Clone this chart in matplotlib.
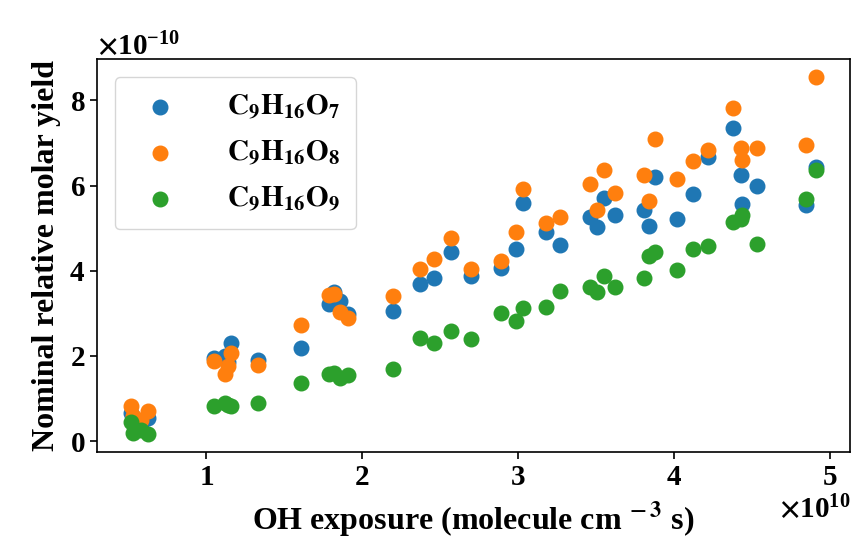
import numpy as np
import matplotlib
matplotlib.use("Agg")
import matplotlib.pyplot as plt

# OH exposure (x 1e10) and nominal yields (x 1e-10)
oh_exposure = [0.52, 0.53, 0.58, 0.63, 1.05, 1.12, 1.14, 1.16, 1.33,
               1.61, 1.79, 1.82, 1.86, 1.91, 2.20, 2.37, 2.46, 2.57,
               2.70, 2.89, 2.99, 3.03, 3.18, 3.27, 3.46, 3.51, 3.55,
               3.62, 3.81, 3.84, 3.88, 4.02, 4.12, 4.22, 4.38, 4.43,
               4.44, 4.53, 4.85, 4.91]
c9h16o7 = [0.65, 0.50, 0.40, 0.55, 1.95, 2.00, 1.85, 2.31, 1.90,
           2.18, 3.22, 3.50, 3.28, 2.98, 3.06, 3.69, 3.83, 4.43,
           3.88, 4.06, 4.51, 5.58, 4.90, 4.61, 5.27, 5.02, 5.72,
           5.32, 5.43, 5.04, 6.21, 5.22, 5.80, 6.68, 7.35, 6.26,
           5.57, 6.00, 5.55, 6.43]
c9h16o8 = [0.82, 0.60, 0.50, 0.70, 1.88, 1.57, 1.76, 2.06, 1.79,
           2.72, 3.42, 3.45, 3.02, 2.90, 3.41, 4.04, 4.27, 4.77,
           4.04, 4.24, 4.92, 5.92, 5.11, 5.26, 6.04, 5.43, 6.36,
           5.82, 6.25, 5.65, 7.10, 6.16, 6.57, 6.84, 7.83, 6.89,
           6.59, 6.88, 6.96, 8.55]
c9h16o9 = [0.45, 0.18, 0.27, 0.16, 0.82, 0.90, 0.85, 0.82, 0.90,
           1.37, 1.58, 1.60, 1.47, 1.55, 1.70, 2.42, 2.31, 2.59,
           2.40, 3.00, 2.82, 3.12, 3.14, 3.52, 3.62, 3.51, 3.87,
           3.61, 3.83, 4.35, 4.45, 4.02, 4.51, 4.57, 5.15, 5.22,
           5.31, 4.64, 5.69, 6.37]
labels = [r'$\mathbf{C_9H_{16}O_7}$', r'$\mathbf{C_9H_{16}O_8}$', r'$\mathbf{C_9H_{16}O_9}$']

plt.rcParams['font.family'] = ['Liberation Serif', 'DejaVu Serif']
plt.rcParams['font.weight'] = 'bold'
plt.rcParams['mathtext.fontset'] = 'stix'
plt.rcParams['axes.formatter.use_mathtext'] = True

fs = 21
x = np.array(oh_exposure) * 1e10
fig = plt.figure(figsize=(8.54, 5.48), dpi=100)
ax = fig.add_axes([0.1136, 0.175, 0.8817, 0.717])

for vals, lab in zip([c9h16o7, c9h16o8, c9h16o9], labels):
    ax.scatter(x, np.array(vals) * 1e-10, s=110, label=lab)

ax.set_xlabel(r'OH exposure (molecule cm$^{\mathbf{\;-3}}$ s)', fontsize=23, fontweight='bold', labelpad=6)
ax.set_ylabel('Nominal relative molar yield', fontsize=23, fontweight='bold', labelpad=6)
ax.tick_params(labelsize=fs, width=1.2, length=5)
for t in ax.get_xticklabels() + ax.get_yticklabels():
    t.set_fontweight('bold')
ax.xaxis.get_offset_text().set_fontsize(fs)
ax.yaxis.get_offset_text().set_fontsize(fs)
for sp in ax.spines.values():
    sp.set_linewidth(1.2)

ax.legend(loc='upper left', fontsize=fs, handletextpad=1.3, borderpad=0.55,
          labelspacing=0.6, borderaxespad=0.6)

fig.savefig('out.png', dpi=100)
